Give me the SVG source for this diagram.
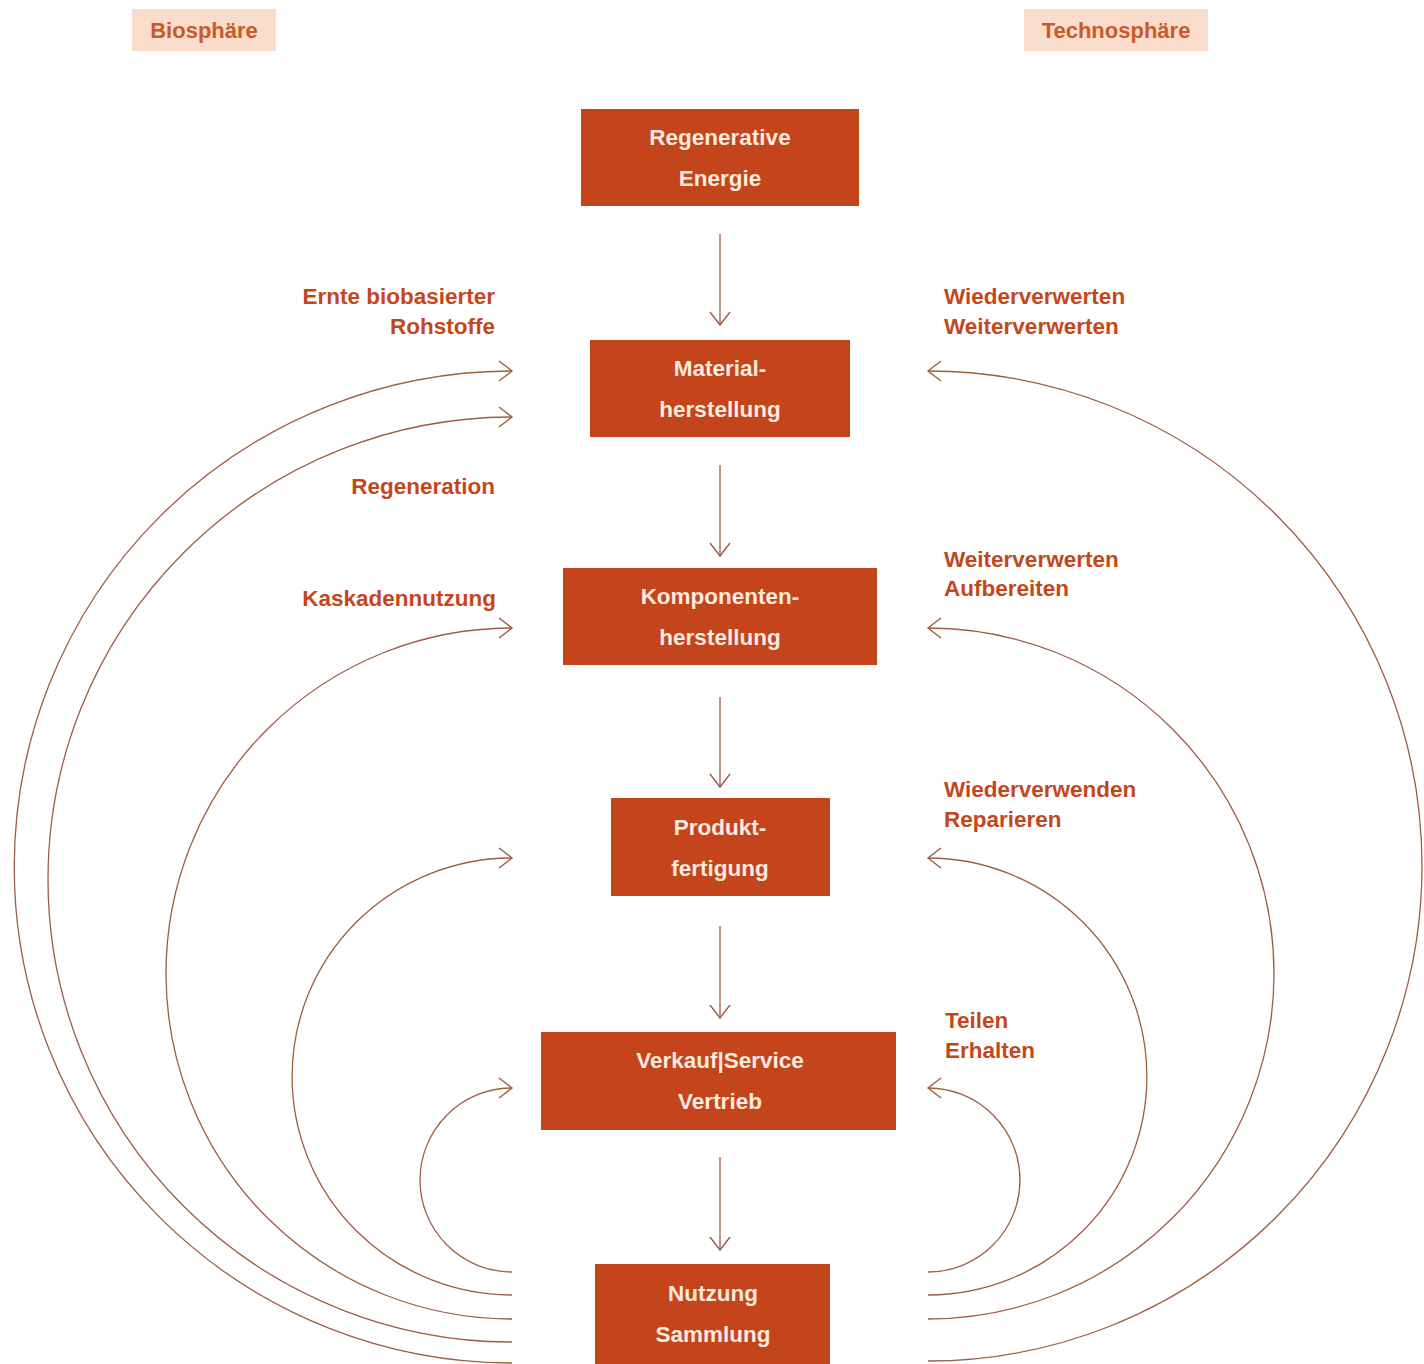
<svg xmlns="http://www.w3.org/2000/svg" width="1424" height="1364" viewBox="0 0 1424 1364">
<style>
.box{fill:#C4451B;}
.bt{font-family:"Liberation Sans",Arial,sans-serif;font-weight:bold;font-size:22.5px;fill:#FBEADF;text-anchor:middle;}
.lbl{font-family:"Liberation Sans",Arial,sans-serif;font-weight:bold;font-size:22.5px;fill:#C4471B;}
.tag{fill:#F9DCCB;}
.tt{font-family:"Liberation Sans",Arial,sans-serif;font-weight:bold;font-size:22px;fill:#C85A2C;text-anchor:middle;}
.c{fill:none;stroke:#9C5E42;stroke-width:1.3;}
</style>
<defs>
<marker id="ah" markerUnits="userSpaceOnUse" markerWidth="20" markerHeight="24" viewBox="-14 -12 16 24" refX="0" refY="0" orient="auto">
<path d="M-13,-10 L0,0 L-13,10" fill="none" stroke="#9C5E42" stroke-width="1.4"/>
</marker>
</defs>
<rect width="1424" height="1364" fill="#FFFFFF"/>

<g id="tag-biosphaere"><rect class="tag" x="132" y="9" width="144" height="42"/><text class="tt" x="204" y="38">Biosphäre</text></g>
<g id="tag-technosphaere"><rect class="tag" x="1024" y="9" width="184" height="42"/><text class="tt" x="1116" y="38">Technosphäre</text></g>

<g id="connectors">
<path class="c" marker-end="url(#ah)" d="M720,234 L720,325"/>
<path class="c" marker-end="url(#ah)" d="M720,465 L720,556"/>
<path class="c" marker-end="url(#ah)" d="M720,697 L720,787"/>
<path class="c" marker-end="url(#ah)" d="M720,926 L720,1018"/>
<path class="c" marker-end="url(#ah)" d="M720,1157 L720,1250"/>
<path class="c" marker-end="url(#ah)" d="M512,1272 A92,92 0 0 1 512,1088"/>
<path class="c" marker-end="url(#ah)" d="M512,1295 A220,218.5 0 0 1 512,858"/>
<path class="c" marker-end="url(#ah)" d="M512,1319 A346,345.5 0 0 1 512,628"/>
<path class="c" marker-end="url(#ah)" d="M512,1342 A464,462.5 0 0 1 512,417"/>
<path class="c" marker-end="url(#ah)" d="M512,1363 A498,496 0 0 1 512,371"/>
<path class="c" marker-end="url(#ah)" d="M928,1272 A92,92 0 0 0 928,1088"/>
<path class="c" marker-end="url(#ah)" d="M928,1295 A219,218.5 0 0 0 928,858"/>
<path class="c" marker-end="url(#ah)" d="M928,1319 A346,345.5 0 0 0 928,628"/>
<path class="c" marker-end="url(#ah)" d="M928,1361 A494,495 0 0 0 928,371"/>
</g>

<g id="node-energie"><rect class="box" x="581" y="109" width="278" height="97"/><text class="bt" x="720" y="145">Regenerative</text><text class="bt" x="720" y="186">Energie</text></g>
<g id="node-material"><rect class="box" x="590" y="340" width="260" height="97"/><text class="bt" x="720" y="376">Material-</text><text class="bt" x="720" y="417">herstellung</text></g>
<g id="node-komponenten"><rect class="box" x="563" y="568" width="314" height="97"/><text class="bt" x="720" y="604">Komponenten-</text><text class="bt" x="720" y="645">herstellung</text></g>
<g id="node-produkt"><rect class="box" x="611" y="798" width="219" height="98"/><text class="bt" x="720" y="835">Produkt-</text><text class="bt" x="720" y="876">fertigung</text></g>
<g id="node-verkauf"><rect class="box" x="541" y="1032" width="355" height="98"/><text class="bt" x="720" y="1068">Verkauf|Service</text><text class="bt" x="720" y="1109">Vertrieb</text></g>
<g id="node-nutzung"><rect class="box" x="595" y="1264" width="235" height="100"/><text class="bt" x="713" y="1301">Nutzung</text><text class="bt" x="713" y="1342">Sammlung</text></g>

<g id="labels-left" text-anchor="end">
<text class="lbl" x="495" y="304">Ernte biobasierter</text>
<text class="lbl" x="495" y="334">Rohstoffe</text>
<text class="lbl" x="495" y="494">Regeneration</text>
<text class="lbl" x="496" y="606">Kaskadennutzung</text>
</g>
<g id="labels-right">
<text class="lbl" x="944" y="304">Wiederverwerten</text>
<text class="lbl" x="944" y="334">Weiterverwerten</text>
<text class="lbl" x="944" y="567">Weiterverwerten</text>
<text class="lbl" x="944" y="596">Aufbereiten</text>
<text class="lbl" x="944" y="797">Wiederverwenden</text>
<text class="lbl" x="944" y="827">Reparieren</text>
<text class="lbl" x="945" y="1028">Teilen</text>
<text class="lbl" x="945" y="1058">Erhalten</text>
</g>
</svg>
